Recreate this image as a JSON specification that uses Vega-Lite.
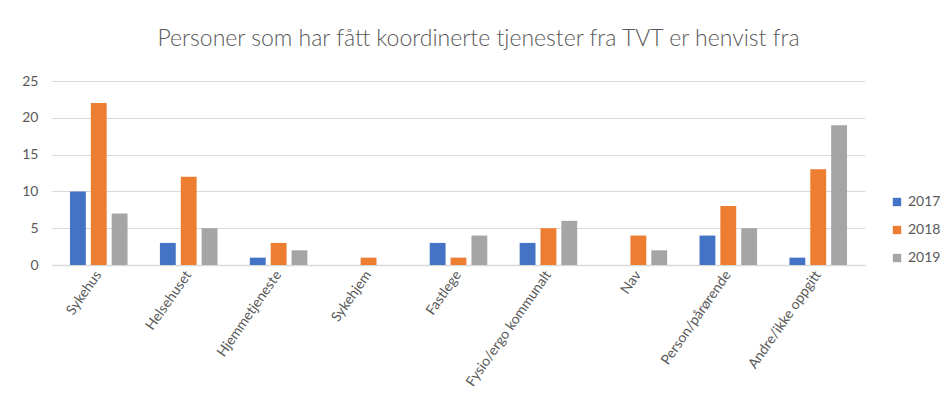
{
  "$schema": "https://vega.github.io/schema/vega-lite/v6.json",
  "width": 813,
  "height": 184,
  "autosize": {"type": "none"},
  "padding": {"left": 52, "top": 81, "right": 83, "bottom": 136},
  "background": "white",
  "title": {
    "text": "Personer som har fått koordinerte tjenester fra TVT er henvist fra",
    "fontSize": 23,
    "font": "Lato",
    "fontWeight": 300,
    "color": "#595959",
    "anchor": "middle",
    "dx": 20,
    "offset": 23
  },
  "data": {
    "values": [
      {"kategori": "Sykehus", "år": "2017", "antall": 10},
      {"kategori": "Sykehus", "år": "2018", "antall": 22},
      {"kategori": "Sykehus", "år": "2019", "antall": 7},
      {"kategori": "Helsehuset", "år": "2017", "antall": 3},
      {"kategori": "Helsehuset", "år": "2018", "antall": 12},
      {"kategori": "Helsehuset", "år": "2019", "antall": 5},
      {"kategori": "Hjemmetjeneste", "år": "2017", "antall": 1},
      {"kategori": "Hjemmetjeneste", "år": "2018", "antall": 3},
      {"kategori": "Hjemmetjeneste", "år": "2019", "antall": 2},
      {"kategori": "Sykehjem", "år": "2017", "antall": 0},
      {"kategori": "Sykehjem", "år": "2018", "antall": 1},
      {"kategori": "Sykehjem", "år": "2019", "antall": 0},
      {"kategori": "Fastlege", "år": "2017", "antall": 3},
      {"kategori": "Fastlege", "år": "2018", "antall": 1},
      {"kategori": "Fastlege", "år": "2019", "antall": 4},
      {"kategori": "Fysio/ergo kommunalt", "år": "2017", "antall": 3},
      {"kategori": "Fysio/ergo kommunalt", "år": "2018", "antall": 5},
      {"kategori": "Fysio/ergo kommunalt", "år": "2019", "antall": 6},
      {"kategori": "Nav", "år": "2017", "antall": 0},
      {"kategori": "Nav", "år": "2018", "antall": 4},
      {"kategori": "Nav", "år": "2019", "antall": 2},
      {"kategori": "Person/pårørende", "år": "2017", "antall": 4},
      {"kategori": "Person/pårørende", "år": "2018", "antall": 8},
      {"kategori": "Person/pårørende", "år": "2019", "antall": 5},
      {"kategori": "Andre/ikke oppgitt", "år": "2017", "antall": 1},
      {"kategori": "Andre/ikke oppgitt", "år": "2018", "antall": 13},
      {"kategori": "Andre/ikke oppgitt", "år": "2019", "antall": 19}
    ]
  },
  "mark": {"type": "bar"},
  "encoding": {
    "x": {
      "field": "kategori",
      "type": "nominal",
      "sort": null,
      "scale": {"paddingInner": 0.36, "paddingOuter": 0.2},
      "axis": {
        "title": null,
        "labelAngle": -55,
        "labelFontSize": 14,
        "labelFont": "Lato",
        "labelColor": "#595959",
        "domainColor": "#d9d9d9",
        "domainWidth": 1.5,
        "ticks": false,
        "labelPadding": 7
      }
    },
    "xOffset": {
      "field": "år",
      "type": "nominal",
      "scale": {"paddingInner": 0.24}
    },
    "y": {
      "field": "antall",
      "type": "quantitative",
      "scale": {"domain": [0, 25], "nice": false},
      "axis": {
        "title": null,
        "values": [0, 5, 10, 15, 20, 25],
        "domain": false,
        "ticks": false,
        "labelFontSize": 14,
        "labelFont": "Lato",
        "labelColor": "#595959",
        "labelPadding": 14,
        "gridColor": "#d9d9d9",
        "gridWidth": 1.2
      }
    },
    "color": {
      "field": "år",
      "type": "nominal",
      "scale": {"domain": ["2017", "2018", "2019"], "range": ["#4472c4", "#ed7d31", "#a5a5a5"]},
      "legend": {
        "title": null,
        "orient": "none",
        "legendX": 838,
        "legendY": 114,
        "symbolType": "square",
        "symbolSize": 70,
        "symbolStrokeWidth": 0,
        "labelFontSize": 14,
        "labelFont": "Lato",
        "labelColor": "#595959",
        "rowPadding": 14
      }
    }
  },
  "config": {"view": {"stroke": null}}
}
